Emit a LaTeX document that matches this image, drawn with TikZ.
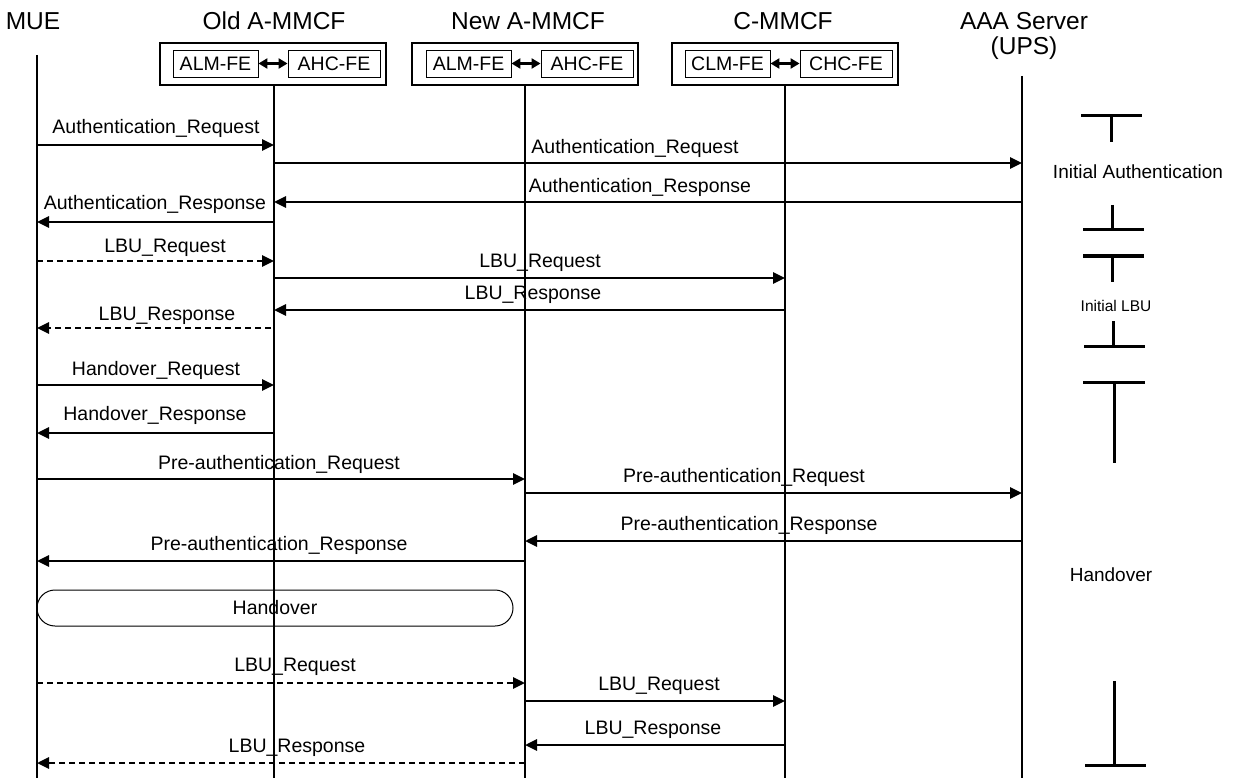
\documentclass[tikz,border=0pt]{standalone}
\usepackage{fontspec}
\setmainfont{Liberation Sans}
\usetikzlibrary{arrows.meta}
\begin{document}
\begin{tikzpicture}[x=1pt,y=-1pt,
  life/.style={line width=1.1pt},
  msg/.style={line width=2.8pt,-{Triangle[length=12pt,width=11pt]}},
  dmsg/.style={msg,dash pattern=on 6pt off 4pt},
  lbl/.style={anchor=base,inner sep=0pt,font=\fontsize{19.5}{22}\selectfont},
  ttl/.style={anchor=base,inner sep=0pt,font=\fontsize{24.5}{28}\selectfont},
  outerbox/.style={draw,line width=1.8pt,minimum width=226pt,minimum height=42pt,inner sep=0pt},
  innerbox/.style={draw,line width=0.9pt,minimum height=27pt,inner sep=0pt,font=\fontsize{19.5}{22}\selectfont},
  link/.style={line width=2.6pt,{Triangle[length=9pt,width=10pt]}-{Triangle[length=9pt,width=10pt]}},
  brk/.style={line width=3pt},
  side/.style={inner sep=0pt,font=\fontsize{19}{22}\selectfont},
  rbox/.style={draw,line width=1pt,rounded corners=18pt,inner sep=0pt,font=\fontsize{19.5}{22}\selectfont}
]
\useasboundingbox (0,0) rectangle (1237,778);

% titles
\node[ttl] (tmue) at (33,30) {MUE};
\node[ttl] (told) at (274,30) {Old A-MMCF};
\node[ttl] (tnew) at (528,30) {New A-MMCF};
\node[ttl] (tc) at (783,30) {C-MMCF};
\node[ttl] (taaa) at (1024,30) {AAA Server};
\node[ttl] (tups) at (1024,55) {(UPS)};

% entity boxes
\node[outerbox] (oldbox) at (273,64) {};
\node[innerbox,minimum width=85pt] (oldalm) at (215.5,63.5) {ALM-FE};
\node[innerbox,minimum width=92pt] (oldahc) at (334,63.5) {AHC-FE};
\draw[link] (oldalm) -- (oldahc);

\node[outerbox] (newbox) at (525,64) {};
\node[innerbox,minimum width=85pt] (newalm) at (468.5,63.5) {ALM-FE};
\node[innerbox,minimum width=92pt] (newahc) at (587,63.5) {AHC-FE};
\draw[link] (newalm) -- (newahc);

\node[outerbox] (cbox) at (785,64) {};
\node[innerbox,minimum width=85pt] (cclm) at (727.5,63.5) {CLM-FE};
\node[innerbox,minimum width=92pt] (cchc) at (846,63.5) {CHC-FE};
\draw[link] (cclm) -- (cchc);

% lifelines
\coordinate (mue) at (37,55);
\coordinate (old) at (274,85);
\coordinate (new) at (525,85);
\coordinate (cm) at (785,85);
\coordinate (aaa) at (1022,76);
\coordinate (mueE) at (37,778);
\coordinate (oldE) at (274,778);
\coordinate (newE) at (525,778);
\coordinate (cmE) at (785,778);
\coordinate (aaaE) at (1022,778);
\draw[life] (mue) -- (mueE);
\draw[life] (old) -- (oldE);
\draw[life] (new) -- (newE);
\draw[life] (cm) -- (cmE);
\draw[life] (aaa) -- (aaaE);

% messages
\draw[msg] (mue |- 0,145) -- (old |- 0,145);
\node[lbl] (l1) at (156,134) {Authentication\_Request};
\draw[msg] (old |- 0,163) -- (aaa |- 0,163);
\node[lbl] (l2) at (635,154) {Authentication\_Request};
\draw[msg] (aaa |- 0,202) -- (old |- 0,202);
\node[lbl] (l3) at (640,193) {Authentication\_Response};
\draw[msg] (old |- 0,222) -- (mue |- 0,222);
\node[lbl] (l4) at (155,210) {Authentication\_Response};

\draw[dmsg] (mue |- 0,261) -- (old |- 0,261);
\node[lbl] (l5) at (165,252) {LBU\_Request};
\draw[msg] (old |- 0,278) -- (cm |- 0,278);
\node[lbl] (l6) at (540,268) {LBU\_Request};
\draw[msg] (cm |- 0,310) -- (old |- 0,310);
\node[lbl] (l7) at (533,299) {LBU\_Response};
\draw[dmsg] ([xshift=-3pt]old |- 0,328) -- (mue |- 0,328);
\node[lbl] (l8) at (167,320) {LBU\_Response};

\draw[msg] (mue |- 0,385) -- (old |- 0,385);
\node[lbl] (l9) at (156,375) {Handover\_Request};
\draw[msg] (old |- 0,433) -- (mue |- 0,433);
\node[lbl] (l10) at (155,420) {Handover\_Response};

\draw[msg] (mue |- 0,479) -- (new |- 0,479);
\node[lbl] (l11) at (279,469) {Pre-authentication\_Request};
\draw[msg] (new |- 0,493) -- (aaa |- 0,493);
\node[lbl] (l12) at (744,482) {Pre-authentication\_Request};
\draw[msg] (aaa |- 0,541) -- (new |- 0,541);
\node[lbl] (l13) at (749,530) {Pre-authentication\_Response};
\draw[msg] (new |- 0,561) -- (mue |- 0,561);
\node[lbl] (l14) at (279,550) {Pre-authentication\_Response};

\node[rbox,minimum width=476pt,minimum height=36pt] (hobox) at (275,608) {Handover};

\draw[dmsg] (mue |- 0,683) -- (new |- 0,683);
\node[lbl] (l16) at (295,671) {LBU\_Request};
\draw[msg] (new |- 0,701) -- (cm |- 0,701);
\node[lbl] (l17) at (659,690) {LBU\_Request};
\draw[msg] (cm |- 0,745) -- (new |- 0,745);
\node[lbl] (l18) at (653,734) {LBU\_Response};
\draw[dmsg] (new |- 0,763) -- (mue |- 0,763);
\node[lbl] (l19) at (297,752) {LBU\_Response};

% phase brackets
\draw[brk] (1081,116) -- (1142,116) (1111,116) -- (1111,142);
\node[side] (ph1) at (1138,172) {Initial Authentication};
\draw[brk] (1112,205) -- (1112,230) (1083,230) -- (1144,230);
\draw[brk] (1083,256) -- (1144,256) (1112,256) -- (1112,282);
\node[side,font=\fontsize{15.5}{18}\selectfont] (ph2) at (1116,306) {Initial LBU};
\draw[brk] (1113,321) -- (1113,346) (1084,346) -- (1145,346);
\draw[brk] (1083,382) -- (1145,382) (1114,382) -- (1114,463);
\node[side] (ph3) at (1111,575) {Handover};
\draw[brk] (1114,681) -- (1114,765) (1085,765) -- (1146,765);
\end{tikzpicture}
\end{document}
